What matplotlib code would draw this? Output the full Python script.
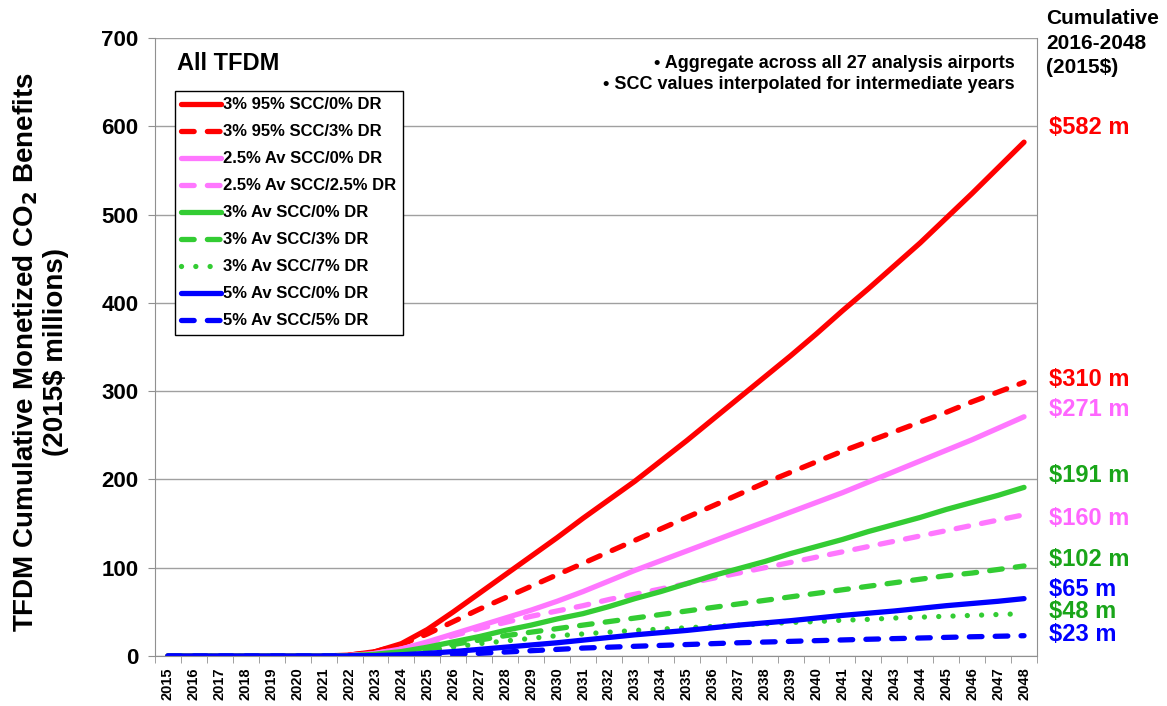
import matplotlib.pyplot as plt
import numpy as np

plt.rcParams['font.family'] = ['Liberation Sans', 'DejaVu Sans']
plt.rcParams['font.weight'] = 'bold'

years = list(range(2015, 2049))

# cumulative monetized CO2 benefits, $ millions
red_0 = [0, 0, 0, 0, 0, 0, 0, 1, 5, 14, 30, 50, 71, 92, 113, 134, 156, 177,
         198, 221, 244, 268, 292, 316, 340, 365, 391, 416, 442, 468, 496, 524, 553, 582]
red_3 = [0, 0, 0, 0, 0, 0, 0, 1, 5, 13, 25, 39, 53, 66, 79, 92, 105, 118,
         131, 144, 157, 170, 183, 196, 208, 220, 232, 243, 254, 265, 276, 288, 299, 310]
pink_0 = [0, 0, 0, 0, 0, 0, 0, 0.5, 3, 8, 16, 25, 34, 43, 52, 62, 73, 85,
          97, 108, 119, 130, 141, 152, 163, 174, 185, 197, 209, 221, 233, 245, 258, 271]
pink_25 = [0, 0, 0, 0, 0, 0, 0, 0.5, 3, 8, 15, 23, 31, 38, 45, 51, 57, 64,
           70, 76, 82, 88, 94, 100, 106, 112, 118, 124, 130, 136, 142, 148, 154, 160]
green_0 = [0, 0, 0, 0, 0, 0, 0, 0.3, 2, 5, 10, 16, 22, 29, 35, 42, 48, 56,
           65, 73, 82, 91, 99, 107, 116, 124, 132, 141, 149, 157, 166, 174, 182, 191]
green_3 = [0, 0, 0, 0, 0, 0, 0, 0.3, 1.5, 4, 8, 13, 18, 23, 27, 31, 35, 39,
           43, 47, 51, 55, 59, 63, 67, 71, 75, 79, 83, 87, 91, 94, 98, 102]
green_7 = [0, 0, 0, 0, 0, 0, 0, 0.2, 1, 3, 6, 10, 14, 17, 20, 23, 25, 27,
           29, 30.5, 32, 33.5, 35, 36.5, 38, 39, 40.5, 41.5, 43, 44, 45, 46, 47, 48]
blue_0 = [0, 0, 0, 0, 0, 0, 0, 0.1, 0.5, 1.5, 3, 5, 7.5, 10, 12.5, 15, 18, 21,
          24, 26.5, 29, 32, 35, 37.5, 40, 43, 46, 48.5, 51, 54, 57, 59.5, 62, 65]
blue_5 = [0, 0, 0, 0, 0, 0, 0, 0, 0.2, 0.6, 1.2, 2, 3, 4.5, 6, 7.5, 9, 10,
          11, 12, 13, 14, 15, 15.8, 16.6, 17.4, 18.2, 19, 19.7, 20.4, 21.1, 21.8, 22.4, 23]

RED = '#FF0000'
PINK = '#FF77FF'
GREEN = '#33CC33'
BLUE = '#0000FF'

series = [
    ('3% 95% SCC/0% DR', red_0, RED, '-'),
    ('3% 95% SCC/3% DR', red_3, RED, '--'),
    ('2.5% Av SCC/0% DR', pink_0, PINK, '-'),
    ('2.5% Av SCC/2.5% DR', pink_25, PINK, '--'),
    ('3% Av SCC/0% DR', green_0, GREEN, '-'),
    ('3% Av SCC/3% DR', green_3, GREEN, '--'),
    ('3% Av SCC/7% DR', green_7, GREEN, ':'),
    ('5% Av SCC/0% DR', blue_0, BLUE, '-'),
    ('5% Av SCC/5% DR', blue_5, BLUE, '--'),
]

end_labels = ['$582 m', '$310 m', '$271 m', '$191 m', '$160 m', '$102 m', '$65 m', '$48 m', '$23 m']
end_colors = ['#FF0000', '#FF0000', '#FF66FF', '#19A519', '#FF66FF', '#19A519', '#0000FF', '#19A519', '#0000FF']
end_y = [599, 313, 279, 205, 156, 109, 75, 50, 24]

fig = plt.figure(figsize=(11.67, 7.06), dpi=100)
ax = fig.add_axes([0.1328, 0.0708, 0.7558, 0.8754])

x = np.arange(len(years))
lw = 3.8
for label, vals, col, ls in series:
    if ls == '-':
        ax.plot(x, vals, color=col, lw=lw, label=label, solid_capstyle='round')
    elif ls == '--':
        ax.plot(x, vals, color=col, lw=lw, label=label, dashes=(2.4, 2.5),
                dash_capstyle='round')
    else:
        ax.plot(x, vals, color=col, lw=lw, label=label, dashes=(0.01, 2.7),
                dash_capstyle='round')

ax.set_xlim(-0.5, len(years) - 0.5)
ax.set_ylim(0, 700)
ax.set_yticks(range(0, 701, 100))
ax.yaxis.grid(True, color='#A0A0A0', lw=1)
ax.set_axisbelow(True)
ax.set_xticks(x)
ax.set_xticklabels([str(y) for y in years], rotation=90, fontsize=10.5, fontweight='bold')
ax.set_xticks(np.arange(-0.5, len(years), 1), minor=True)
ax.tick_params(axis='x', which='major', length=0, pad=8)
ax.tick_params(axis='x', which='minor', length=5, color='#909090')
ax.tick_params(axis='y', length=5, color='#909090', labelsize=16, pad=7)
for t in ax.get_yticklabels():
    t.set_fontweight('bold')
for s in ['left', 'right', 'bottom']:
    ax.spines[s].set_color('#909090')
ax.spines['top'].set_visible(False)

fig.text(40 / 1167, 1 - 352 / 706,
         'TFDM Cumulative Monetized CO$_\\mathbf{2}$ Benefits\n(2015\\$ millions)',
         rotation=90, fontsize=20, fontweight='bold', ha='center', va='center',
         multialignment='center', linespacing=1.15)

leg = ax.legend(loc='upper left', bbox_to_anchor=(0.0227, 0.914), borderaxespad=0,
                fancybox=False, edgecolor='black', framealpha=1, handlelength=2.4,
                handletextpad=0.12, labelspacing=0.72, borderpad=0.38,
                prop={'size': 12, 'weight': 'bold'})
leg.get_frame().set_linewidth(1)

ax.text(0.025, 0.977, 'All TFDM', transform=ax.transAxes, fontsize=17,
        fontweight='bold', va='top', ha='left')
ax.text(0.975, 0.973, '\u2022 Aggregate across all 27 analysis airports\n'
        '\u2022 SCC values interpolated for intermediate years',
        transform=ax.transAxes, fontsize=13, fontweight='bold', va='top',
        ha='right', linespacing=1.3)

fig.text(1046 / 1167, 1 - 9 / 706, 'Cumulative\n2016-2048\n(2015$)', fontsize=15,
         fontweight='bold', va='top', ha='left', linespacing=1.38)

for lab, col, yv in zip(end_labels, end_colors, end_y):
    ax.annotate(lab, xy=(1.0, yv), xycoords=('axes fraction', 'data'),
                xytext=(9, 0), textcoords='offset points', fontsize=17,
                fontweight='bold', color=col, va='center', ha='left')

fig.savefig('out.png', dpi=100)
